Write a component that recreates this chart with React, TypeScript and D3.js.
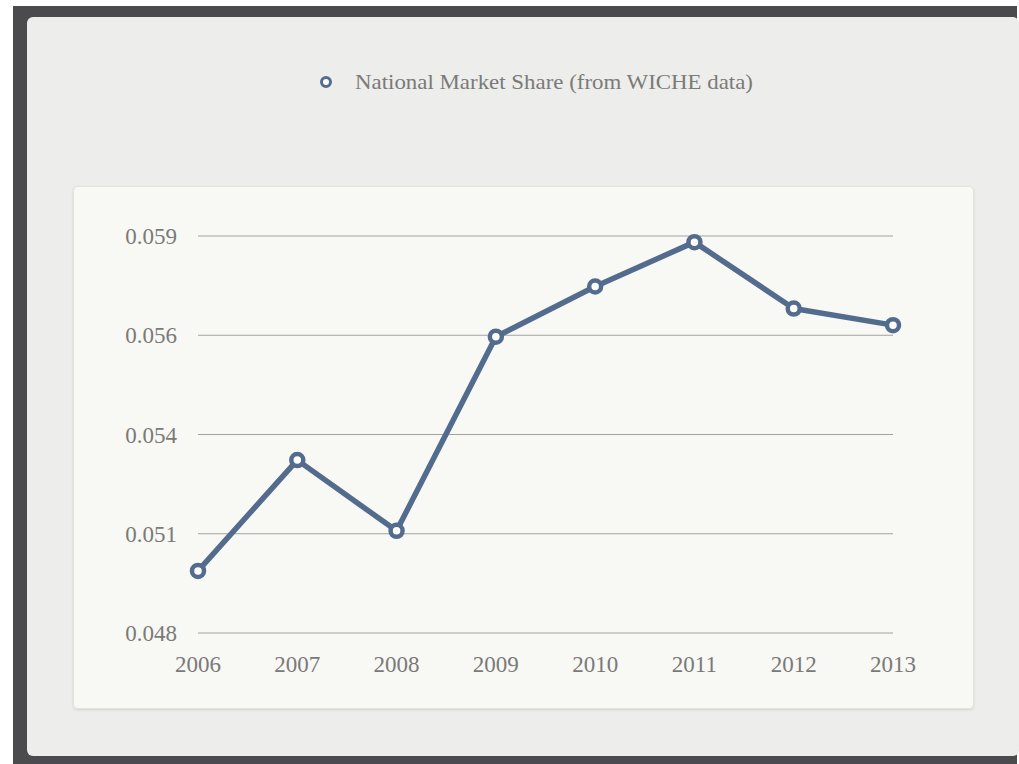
import React from "react";
import * as d3 from "d3";

const years = ["2006", "2007", "2008", "2009", "2010", "2011", "2012", "2013"];
const marketShare = [0.04972, 0.05279, 0.05083, 0.05621, 0.0576, 0.05883, 0.05699, 0.05653];
const yTicks = [0.048, 0.05075, 0.0535, 0.05625, 0.059];
const yTickLabels = ["0.048", "0.051", "0.054", "0.056", "0.059"];
const seriesName = "National Market Share (from WICHE data)";

const W = 1019;
const H = 764;
const LINE = "#536c8d";
const FONT = "'Liberation Serif', 'DejaVu Serif', serif";

export default function App() {
  const x = d3.scalePoint<string>().domain(years).range([198, 893]);
  const y = d3.scaleLinear().domain([0.048, 0.059]).range([633, 236]);
  const line = d3
    .line<number>()
    .x((_, i) => x(years[i]) as number)
    .y((d) => y(d));

  return (
    <svg
      width={W}
      height={H}
      style={{ position: "absolute", left: 0, top: 0 }}
      fontFamily={FONT}
    >
      <defs>
        <filter id="sh" x="-5%" y="-5%" width="110%" height="110%">
          <feDropShadow dx="0" dy="1" stdDeviation="1.2" floodColor="#000" floodOpacity="0.12" />
        </filter>
      </defs>
      <rect x={0} y={0} width={W} height={H} fill="#ffffff" />
      <rect x={13} y={6} width={1004} height={H - 6} fill="#4b4b4e" />
      <rect x={27} y={17} width={W - 27} height={739} rx={6} fill="#ededeb" />
      <rect
        x={73.5}
        y={186.5}
        width={900}
        height={522}
        rx={4}
        fill="#f8f8f5"
        stroke="#e2e2de"
        filter="url(#sh)"
      />
      {/* legend */}
      <circle cx={326} cy={82} r={4.5} fill="#fff" stroke={LINE} strokeWidth={3} />
      <text
        x={355}
        y={89}
        fontSize={22}
        fill="#7a7a78"
        textLength={398}
        lengthAdjust="spacingAndGlyphs"
      >
        {seriesName}
      </text>
      {/* grid + y labels */}
      {yTicks.map((t, i) => (
        <g key={t}>
          <line x1={198} x2={893} y1={y(t)} y2={y(t)} stroke="#a2a29e" strokeWidth={1.2} />
          <text x={177} y={y(t) + 8} fontSize={23} fill="#7a7a78" textAnchor="end">
            {yTickLabels[i]}
          </text>
        </g>
      ))}
      {/* x labels */}
      {years.map((yr) => (
        <text key={yr} x={x(yr)} y={672} fontSize={23} fill="#7a7a78" textAnchor="middle">
          {yr}
        </text>
      ))}
      {/* line */}
      <path
        d={line(marketShare) || ""}
        fill="none"
        stroke={LINE}
        strokeWidth={5.5}
        strokeLinejoin="round"
        strokeLinecap="round"
      />
      {marketShare.map((v, i) => (
        <circle
          key={years[i]}
          cx={x(years[i])}
          cy={y(v)}
          r={6}
          fill="#fff"
          stroke={LINE}
          strokeWidth={4.5}
        />
      ))}
    </svg>
  );
}
